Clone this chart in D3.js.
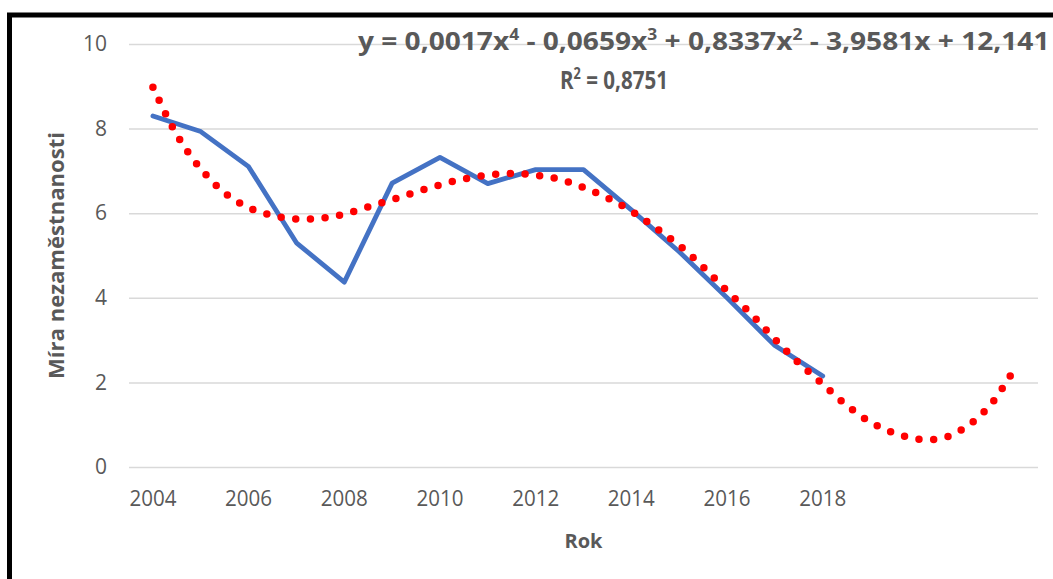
<!DOCTYPE html>
<html><head><meta charset="utf-8">
<script src="https://cdn.jsdelivr.net/npm/d3@7/dist/d3.min.js"></script>
<style>
html,body{margin:0;padding:0;background:#fff;overflow:hidden}
svg{display:block}
text{font-family:"Open Sans","Noto Sans",sans-serif;fill:#595959}
</style></head>
<body>
<svg id="chart" width="1053" height="579"></svg>
<script>
// ---- data ----
const categories = ["2004","2005","2006","2007","2008","2009","2010","2011","2012","2013","2014","2015","2016","2017","2018","2019","2020","2021","2022"];
const years = ["2004","2005","2006","2007","2008","2009","2010","2011","2012","2013","2014","2015","2016","2017","2018"];
const unemployment = [8.3,7.93,7.1,5.3,4.37,6.71,7.32,6.7,7.03,7.03,6.08,5.09,4.0,2.87,2.15];
const trendYears = [2004,2004.5,2005,2005.5,2006,2006.5,2007,2007.5,2008,2008.5,2009,2009.5,2010,2010.5,2011,2011.5,2012,2012.5,2013,2013.5,2014,2014.5,2015,2015.5,2016,2016.5,2017,2017.5,2018,2018.5,2019,2019.5,2020,2020.5,2021,2021.5,2022];
const trendValues = [8.98,7.85,7.05,6.48,6.13,5.95,5.86,5.88,5.98,6.15,6.32,6.5,6.67,6.81,6.9,6.94,6.9,6.8,6.61,6.36,6.05,5.66,5.24,4.73,4.16,3.62,3.02,2.46,1.96,1.46,1.06,0.8,0.66,0.68,0.95,1.46,2.3];
const xTickLabels = ["2004","2006","2008","2010","2012","2014","2016","2018"];
const yTicks = [0,2,4,6,8,10];
const equationParts = [["y = 0,0017x",""],["4","sup"],[" - 0,0659x",""],["3","sup"],[" + 0,8337x",""],["2","sup"],[" - 3,9581x + 12,141",""]];
const r2Parts = [["R",""],["2","sup"],[" = 0,8751",""]];
const yTitle = "Míra nezaměstnanosti";
const xTitle = "Rok";

// ---- layout ----
const svg = d3.select("#chart");
const pLeft = 129, pRight = 1038, pTop = 44, pBottom = 467;

const xb = d3.scaleBand().domain(categories).range([pLeft, pRight]).padding(0);
const bw = xb.bandwidth();
const xc = d => xb(d) + bw / 2;
const xl = d3.scaleLinear().domain([2004, 2022]).range([xc("2004"), xc("2022")]);
const y = d3.scaleLinear().domain([0, 10]).range([pBottom, pTop]);

// frame
svg.append("rect").attr("x", 9.5).attr("y", 15).attr("width", 1100).attr("height", 700)
  .attr("fill", "none").attr("stroke", "#000").attr("stroke-width", 5);

// gridlines
const yAxis = d3.axisLeft(y).tickValues(yTicks).tickSize(-(pRight - pLeft)).tickFormat(d => d).tickPadding(22);
const gy = svg.append("g").attr("transform", `translate(${pLeft},0)`).call(yAxis);
gy.select(".domain").remove();
gy.selectAll(".tick line").attr("stroke", "#d9d9d9").attr("stroke-width", 1.5);
gy.selectAll(".tick text").attr("font-size", 21).attr("fill", "#595959");

// x axis labels
const xAxis = d3.axisBottom(xb).tickValues(xTickLabels).tickSize(0).tickPadding(24);
const gx = svg.append("g").attr("transform", `translate(0,${pBottom})`).call(xAxis);
gx.select(".domain").remove();
gx.selectAll(".tick text").attr("font-size", 21).attr("fill", "#595959")
  .attr("textLength", 47).attr("lengthAdjust", "spacingAndGlyphs");
gx.attr("font-family", null); gy.attr("font-family", null);

// data line
const line = d3.line().x((d, i) => xc(years[i])).y(d => y(d));
svg.append("path").datum(unemployment).attr("d", line)
  .attr("fill", "none").attr("stroke", "#4472C4").attr("stroke-width", 4.8)
  .attr("stroke-linejoin", "round").attr("stroke-linecap", "round");

// trendline (dotted)
const tline = d3.line().curve(d3.curveCatmullRom).x((d, i) => xl(trendYears[i])).y(d => y(d));
svg.append("path").datum(trendValues).attr("d", tline)
  .attr("fill", "none").attr("stroke", "#FF0000").attr("stroke-width", 7.5)
  .attr("stroke-dasharray", "0 14.7").attr("stroke-linecap", "round");

// equation label (horizontally condensed to match the narrow original face)
function rich(parts, x, yy, size, targetWidth) {
  const g = svg.append("g");
  const t = g.append("text").attr("x", 0).attr("y", 0).attr("font-size", size)
    .attr("font-weight", "bold").attr("fill", "#595959");
  parts.forEach(p => {
    const s = t.append("tspan").text(p[0]);
    if (p[1] === "sup") s.attr("font-size", size * 0.62).attr("dy", -size * 0.4);
    else if (t.selectAll("tspan").size() > 1) s.attr("dy", size * 0.4);
  });
  const w = t.node().getComputedTextLength();
  g.attr("transform", `translate(${x},${yy}) scale(${targetWidth / w},1)`);
  return g;
}
rich(equationParts, 358, 50, 25, 692);
rich(r2Parts, 560, 89, 25.5, 108);

// axis titles
svg.append("text").attr("x", (pLeft + pRight) / 2).attr("y", 548).attr("text-anchor", "middle")
  .attr("font-size", 20).attr("font-weight", "bold").text(xTitle);
svg.append("text").attr("transform", `translate(64,${(pTop + pBottom) / 2}) rotate(-90)`)
  .attr("text-anchor", "middle").attr("font-size", 21).attr("font-weight", "bold")
  .attr("textLength", 247).attr("lengthAdjust", "spacingAndGlyphs").text(yTitle);
</script>
</body></html>
